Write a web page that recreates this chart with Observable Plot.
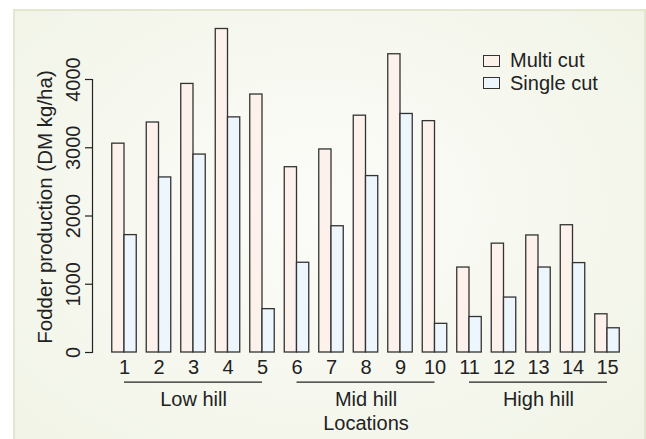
<!DOCTYPE html>
<html>
<head>
<meta charset="utf-8">
<script src="https://cdn.jsdelivr.net/npm/d3@7"></script>
<script src="https://cdn.jsdelivr.net/npm/@observablehq/plot@0.6"></script>
<style>
  html, body { margin: 0; padding: 0; background: #ffffff; }
  #wrap { position: relative; width: 646px; height: 439px; overflow: hidden; font-family: "Liberation Sans", Arial, Helvetica, sans-serif; color: #222; }
  #panel { position: absolute; left: 13px; top: 9px; width: 629px; height: 440px;
    border: 2px solid #e2e7cd; border-bottom: none;
    background: radial-gradient(ellipse 70% 75% at 48% 45%, #fbfcf8 0%, #f6f8ef 55%, #f0f3e5 100%); }
  #chart { position: absolute; left: 0; top: 0; }
  #legend { position: absolute; left: 483px; top: 49px; font-size: 20px; line-height: 22.5px; }
  #legend .row { display: flex; align-items: center; white-space: nowrap; }
  #legend .sw { display: inline-block; width: 15px; height: 10px; border: 1.3px solid #333; margin-right: 10px; margin-top: 1px; }
</style>
</head>
<body>
<div id="wrap">
  <div id="panel"></div>
  <div id="chart"></div>
  <div id="legend"></div>
</div>
<script>
// ---- data ----
const locations = [1, 2, 3, 4, 5, 6, 7, 8, 9, 10, 11, 12, 13, 14, 15];
const series = ["Multi cut", "Single cut"];
const multiCut = [3060, 3370, 3935, 4740, 3780, 2715, 2975, 3470, 4370, 3390, 1245, 1595, 1715, 1865, 560];
const singleCut = [1720, 2565, 2900, 3445, 635, 1315, 1850, 2585, 3495, 420, 520, 805, 1245, 1310, 355];
const groupNames = ["Low hill", "Mid hill", "High hill"];
const groupFirst = [1, 6, 11];
const groupLast = [5, 10, 15];
const yTicks = [0, 1000, 2000, 3000, 4000];
const yLabel = "Fodder production (DM kg/ha)";
const xLabel = "Locations";

const seriesColors = ["#fdf1ec", "#edf5fd"];
const half = 0.355;

const bars = [];
locations.forEach((loc, i) => {
  bars.push({loc, series: series[0], value: multiCut[i]});
  bars.push({loc, series: series[1], value: singleCut[i]});
});
const groups = groupNames.map((name, i) => ({name, first: groupFirst[i], last: groupLast[i], mid: (groupFirst[i] + groupLast[i]) / 2}));

const font = "Liberation Sans, Arial, Helvetica, sans-serif";
const txt = {fill: "#222", textAnchor: "middle", lineAnchor: "middle"};

const plot = Plot.plot({
  width: 646,
  height: 439,
  marginLeft: 92,
  marginRight: 0,
  marginTop: 79,
  marginBottom: 87,
  style: {background: "transparent", fontFamily: font, color: "#222", overflow: "visible"},
  x: {domain: [1, 15], range: [124, 607], axis: null, label: null},
  y: {domain: [0, 4000], axis: null, label: null},
  color: {domain: series, range: seriesColors},
  marks: [
    Plot.rectY(bars, {
      x1: d => d.series === series[0] ? d.loc - half : d.loc,
      x2: d => d.series === series[0] ? d.loc : d.loc + half,
      y1: 0,
      y2: "value",
      fill: "series",
      stroke: "#333",
      strokeWidth: 1.3
    }),
    Plot.axisY(yTicks, {anchor: "left", tickSize: 7, tickFormat: () => "", label: null, stroke: "#222", strokeWidth: 1.2}),
    Plot.frame({anchor: "left", stroke: "#222", strokeWidth: 1.2}),
    Plot.text(yTicks, {y: d => d, frameAnchor: "left", rotate: -90, dx: -18.7, text: d => String(d), fontSize: 20, ...txt}),
    Plot.text([yLabel], {frameAnchor: "left", rotate: -90, dx: -47, dy: -9, text: d => d, fontSize: 20.5, ...txt}),
    Plot.text(locations, {x: d => d, frameAnchor: "bottom", dy: 14.9, text: d => String(d), fontSize: 20, ...txt}),
    Plot.ruleY(groups, {y: 0, x1: "first", x2: "last", dy: 29.7, stroke: "#222", strokeWidth: 1.3}),
    Plot.text(groups, {x: "mid", frameAnchor: "bottom", dy: 47.3, text: "name", fontSize: 20, ...txt}),
    Plot.text([xLabel], {x: d3.mean(locations), frameAnchor: "bottom", dy: 70.6, text: d => d, fontSize: 20, ...txt})
  ]
});
document.getElementById("chart").appendChild(plot);

const legend = document.getElementById("legend");
series.forEach((s, i) => {
  const row = document.createElement("div");
  row.className = "row";
  const sw = document.createElement("span");
  sw.className = "sw";
  sw.style.background = seriesColors[i];
  row.appendChild(sw);
  row.appendChild(document.createTextNode(s));
  legend.appendChild(row);
});
</script>
</body>
</html>
